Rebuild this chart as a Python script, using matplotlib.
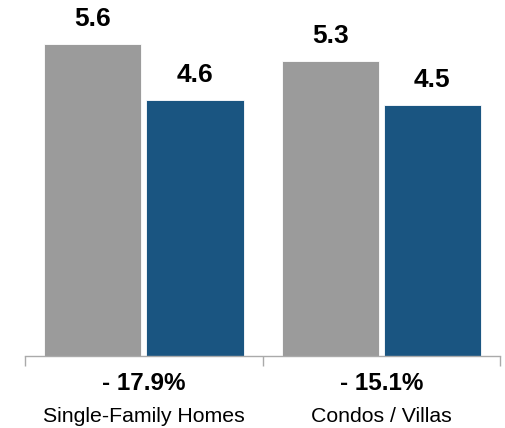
import numpy as np
import matplotlib.pyplot as plt
from matplotlib import transforms

plt.rcParams['font.family'] = ['Liberation Sans', 'DejaVu Sans']

categories = ['Single-Family Homes', 'Condos / Villas']
prev_values = [5.6, 5.3]
curr_values = [4.6, 4.5]
change_labels = ['- 17.9%', '- 15.1%']

gray = '#9b9b9b'
blue = '#1a5581'

fig = plt.figure(figsize=(5.05, 4.28), dpi=100)
ax = fig.add_axes([25 / 505, 72 / 428, 475 / 505, 356 / 428])

x = np.arange(len(categories))
w = 0.41
off = 0.215
b1 = ax.bar(x - off, prev_values, w, color=gray, edgecolor='white', linewidth=0.6)
b2 = ax.bar(x + off, curr_values, w, color=blue, edgecolor='white', linewidth=0.6)

for bars, vals in ((b1, prev_values), (b2, curr_values)):
    for r, v in zip(bars, vals):
        ax.annotate(f'{v:.1f}', (r.get_x() + r.get_width() / 2, v),
                    xytext=(0, 13), textcoords='offset pixels',
                    ha='center', va='bottom', fontsize=19, fontweight='bold')

ax.set_xlim(-0.5, 1.5)
ax.set_ylim(0, 6.39)

for s in ('top', 'right', 'left'):
    ax.spines[s].set_visible(False)
ax.spines['bottom'].set_color('#aaaaaa')
ax.spines['bottom'].set_linewidth(1)
ax.set_yticks([])
ax.set_xticks([-0.5, 0.5, 1.5])
ax.set_xticklabels([])
ax.tick_params(axis='x', direction='out', length=7, color='#aaaaaa', width=1)

trans = transforms.blended_transform_factory(ax.transData, ax.transAxes)
for xi, cat, ch in zip(x, categories, change_labels):
    ax.text(xi, -28 / 356, ch, transform=trans, ha='center', va='center',
            fontsize=17.5, fontweight='bold')
    ax.text(xi, -60 / 356, cat, transform=trans, ha='center', va='center',
            fontsize=15.3)

fig.savefig('out.png', dpi=100)
